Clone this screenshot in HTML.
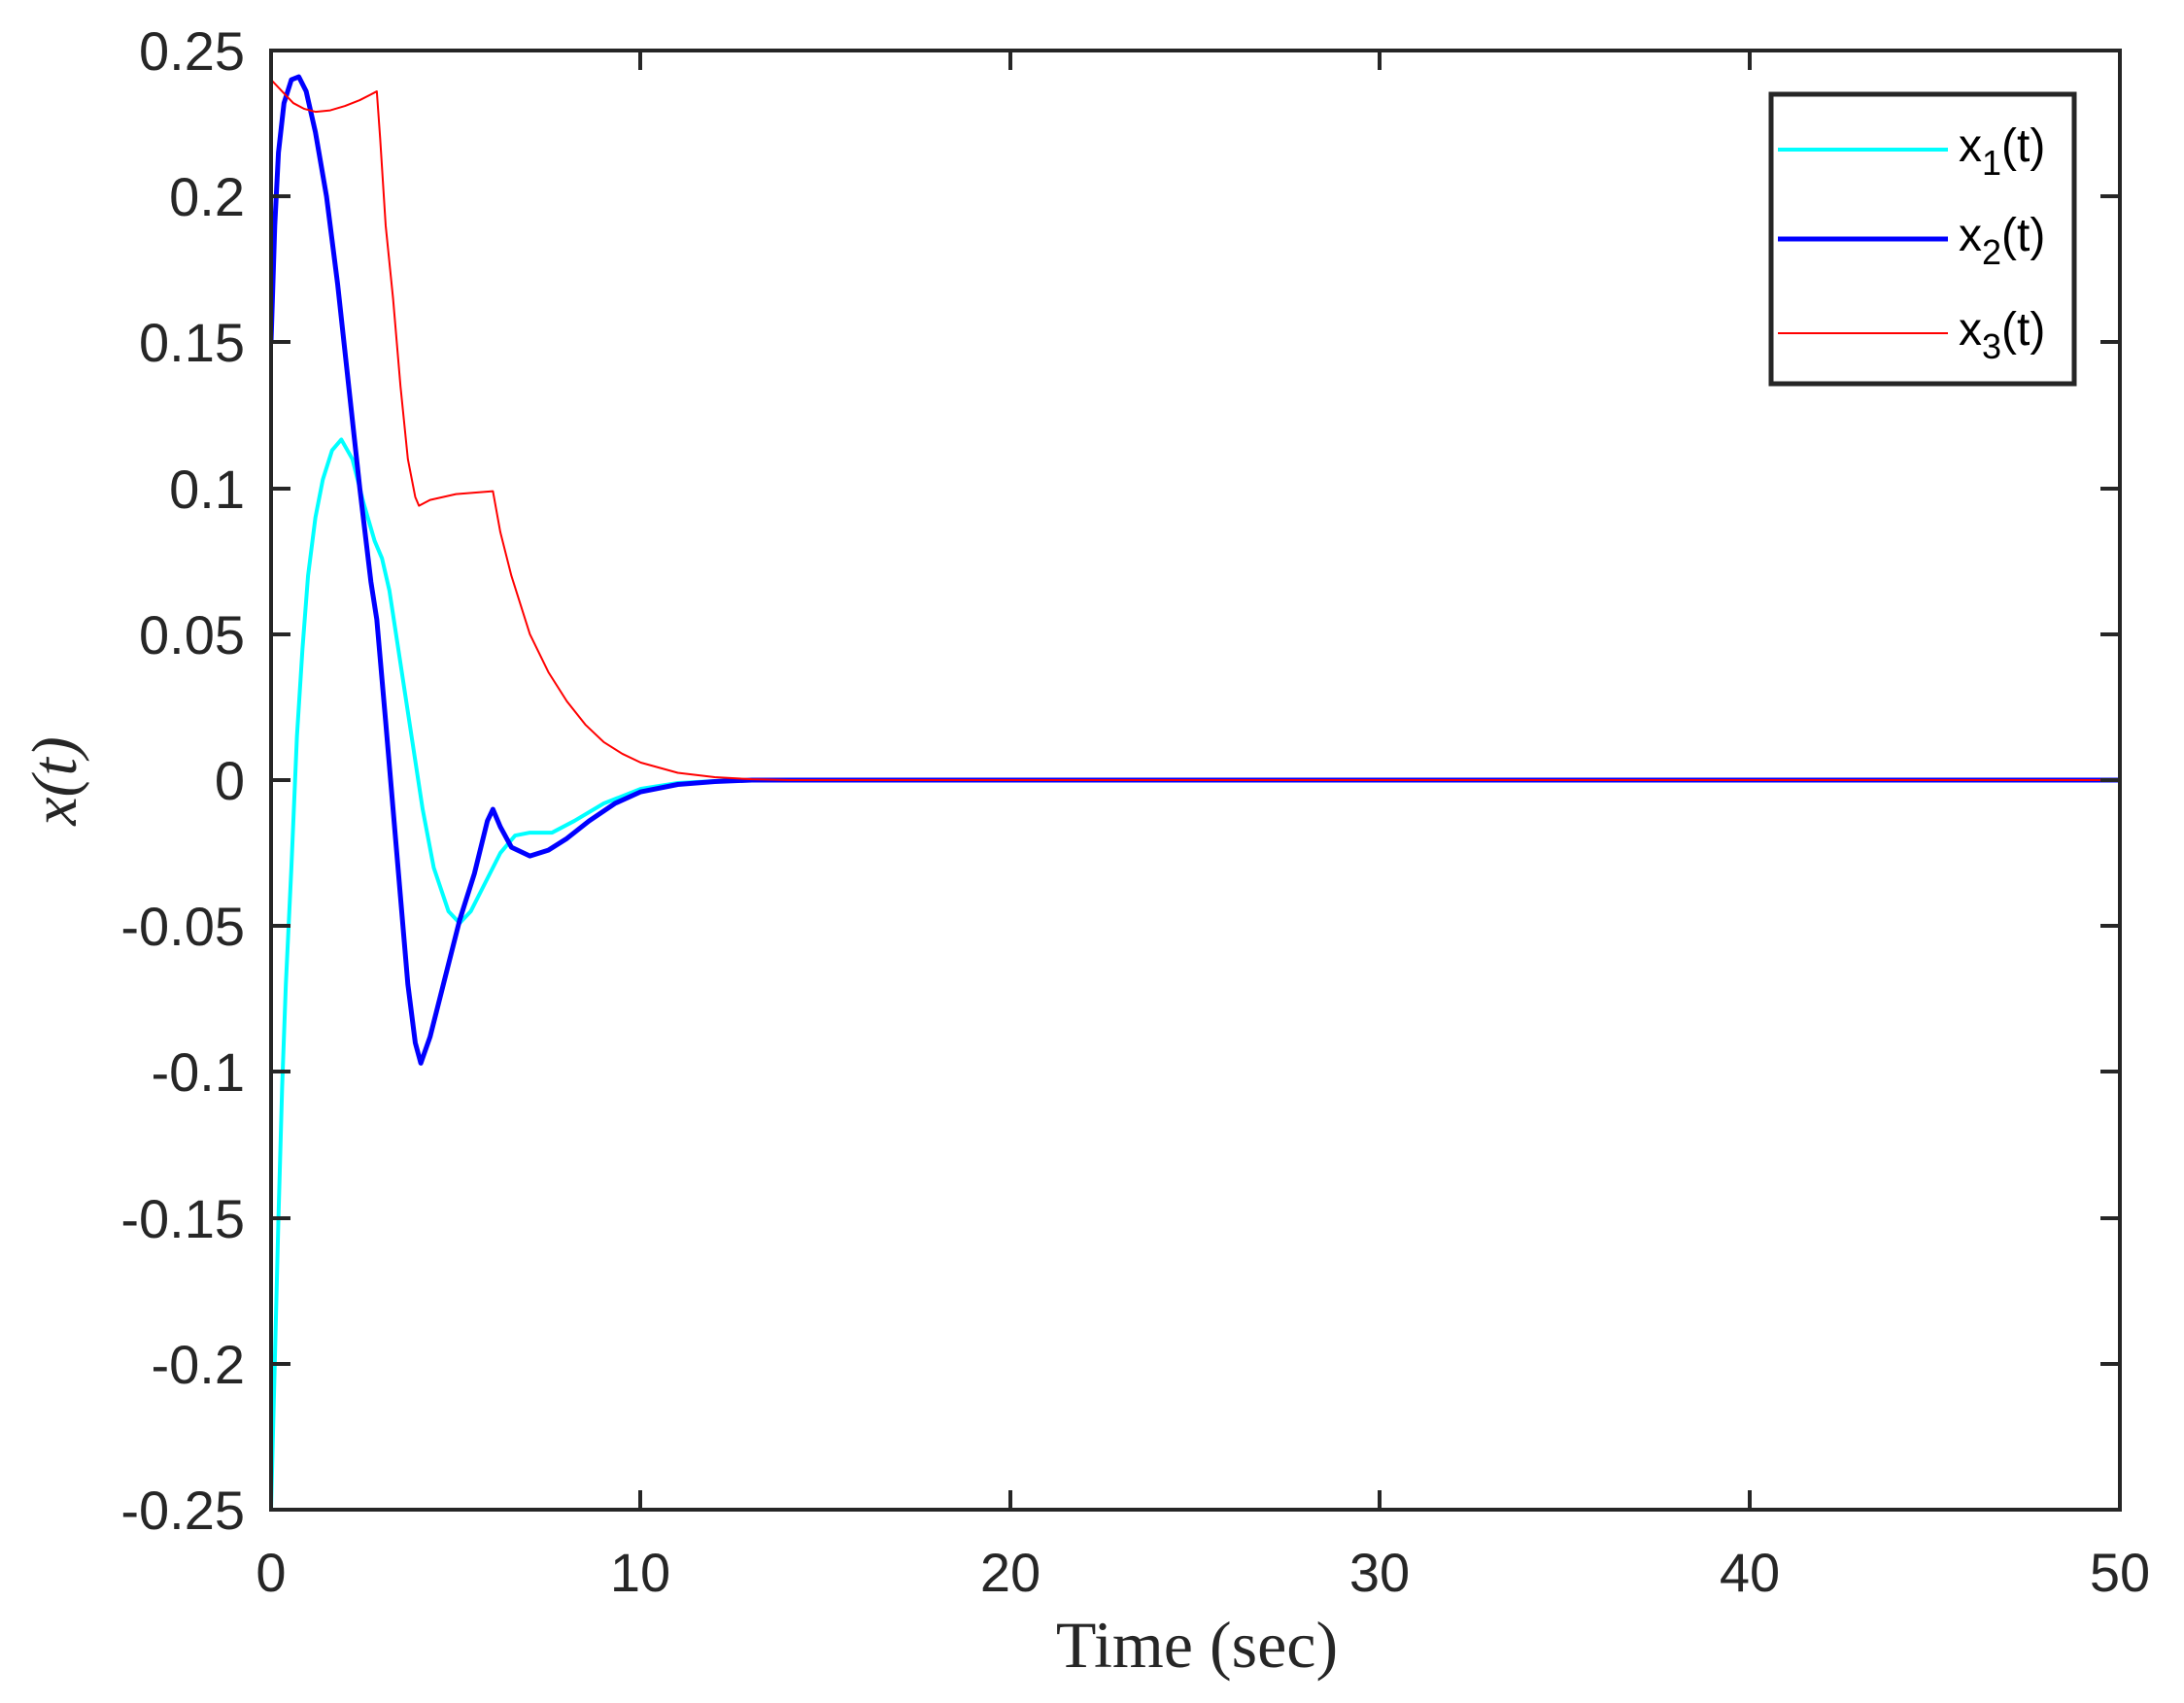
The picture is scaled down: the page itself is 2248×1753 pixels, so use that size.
<!DOCTYPE html>
<html><head><meta charset="utf-8"><style>html,body{margin:0;padding:0;background:#fff}svg{display:block}</style></head>
<body>
<svg width="2248" height="1753" viewBox="0 0 2248 1753" xmlns="http://www.w3.org/2000/svg">
<defs><clipPath id="c"><rect x="279" y="52" width="1903" height="1502"/></clipPath></defs>
<rect width="2248" height="1753" fill="#fff"/>
<g clip-path="url(#c)">
<g transform="translate(279,803) scale(38.06,-3004)" fill="none" stroke-linejoin="round">
<polyline vector-effect="non-scaling-stroke" stroke="#00ffff" stroke-width="4" points="0,-0.25 0.1,-0.2 0.2,-0.15 0.3,-0.105 0.4,-0.07 0.55,-0.03 0.7,0.015 0.85,0.045 1,0.07 1.2,0.09 1.4,0.103 1.65,0.113 1.9,0.1167 2.2,0.11 2.5,0.095 2.8,0.082 3,0.076 3.2,0.065 3.5,0.04 3.8,0.015 4.1,-0.01 4.4,-0.03 4.8,-0.045 5.1,-0.049 5.4,-0.045 5.8,-0.035 6.2,-0.025 6.6,-0.019 7,-0.018 7.6,-0.018 8.2,-0.014 9,-0.008 10,-0.003 11,-0.001 12.5,0 50,0"/>
<polyline vector-effect="non-scaling-stroke" stroke="#0000ff" stroke-width="5" points="0,0.15 0.1,0.19 0.2,0.215 0.35,0.232 0.55,0.24 0.75,0.241 0.95,0.236 1.2,0.222 1.5,0.2 1.8,0.17 2.1,0.135 2.4,0.1 2.7,0.068 2.86,0.055 3.1,0.02 3.3,-0.01 3.5,-0.04 3.7,-0.07 3.9,-0.09 4.05,-0.097 4.3,-0.088 4.7,-0.068 5.1,-0.048 5.5,-0.032 5.85,-0.014 6,-0.01 6.2,-0.016 6.5,-0.023 7,-0.026 7.5,-0.024 8,-0.02 8.6,-0.014 9.3,-0.008 10,-0.004 11,-0.0015 12,-0.0005 13,0 50,0"/>
<polyline vector-effect="non-scaling-stroke" stroke="#ff0000" stroke-width="2" points="0,0.24 0.3,0.236 0.6,0.232 0.9,0.23 1.2,0.229 1.6,0.2295 2,0.231 2.4,0.233 2.86,0.236 2.95,0.22 3.1,0.19 3.3,0.165 3.5,0.135 3.7,0.11 3.9,0.097 4,0.094 4.3,0.096 5,0.098 6,0.099 6.2,0.085 6.5,0.07 7,0.05 7.5,0.037 8,0.027 8.5,0.019 9,0.013 9.5,0.009 10,0.006 11,0.0025 12,0.001 13,0.0003 14,0 50,0"/>
</g>
</g>
<g stroke="#262626" stroke-width="4" fill="none">
<rect x="279" y="52" width="1903" height="1502"/>
<path d="M279,202h20M279,352h20M279,503h20M279,653h20M279,803h20M279,953h20M279,1103h20M279,1254h20M279,1404h20
M2182,202h-20M2182,352h-20M2182,503h-20M2182,653h-20M2182,803h-20M2182,953h-20M2182,1103h-20M2182,1254h-20M2182,1404h-20
M659,1554v-20M1040,1554v-20M1420,1554v-20M1801,1554v-20M659,52v20M1040,52v20M1420,52v20M1801,52v20"/>
</g>
<g font-family="Liberation Sans, sans-serif" font-size="56" fill="#262626" text-anchor="end">
<text x="252" y="72">0.25</text><text x="252" y="222">0.2</text><text x="252" y="372">0.15</text><text x="252" y="523">0.1</text><text x="252" y="673">0.05</text><text x="252" y="823">0</text><text x="252" y="973">-0.05</text><text x="252" y="1123">-0.1</text><text x="252" y="1274">-0.15</text><text x="252" y="1424">-0.2</text><text x="252" y="1574">-0.25</text>
</g>
<g font-family="Liberation Sans, sans-serif" font-size="56" fill="#262626" text-anchor="middle">
<text x="279" y="1638">0</text><text x="659" y="1638">10</text><text x="1040" y="1638">20</text><text x="1420" y="1638">30</text><text x="1801" y="1638">40</text><text x="2182" y="1638">50</text>
</g>
<text x="1232" y="1716" font-family="Liberation Serif, serif" font-size="68" fill="#262626" text-anchor="middle">Time (sec)</text>
<text transform="translate(78,804) rotate(-90)" font-family="Liberation Serif, serif" font-style="italic" font-size="66" fill="#262626" text-anchor="middle">x(t)</text>
<rect x="1823" y="97" width="312" height="298" fill="#fff" stroke="#262626" stroke-width="5"/>
<line x1="1830" y1="154" x2="2005" y2="154" stroke="#00ffff" stroke-width="4"/>
<line x1="1830" y1="246" x2="2005" y2="246" stroke="#0000ff" stroke-width="5"/>
<line x1="1830" y1="343" x2="2005" y2="343" stroke="#ff0000" stroke-width="2"/>
<g font-family="Liberation Sans, sans-serif" font-size="48" fill="#000">
<text x="2016" y="166">x<tspan font-size="36" dy="14">1</tspan><tspan dy="-14">(t)</tspan></text>
<text x="2016" y="258">x<tspan font-size="36" dy="14">2</tspan><tspan dy="-14">(t)</tspan></text>
<text x="2016" y="355">x<tspan font-size="36" dy="14">3</tspan><tspan dy="-14">(t)</tspan></text>
</g>
</svg>
</body></html>
